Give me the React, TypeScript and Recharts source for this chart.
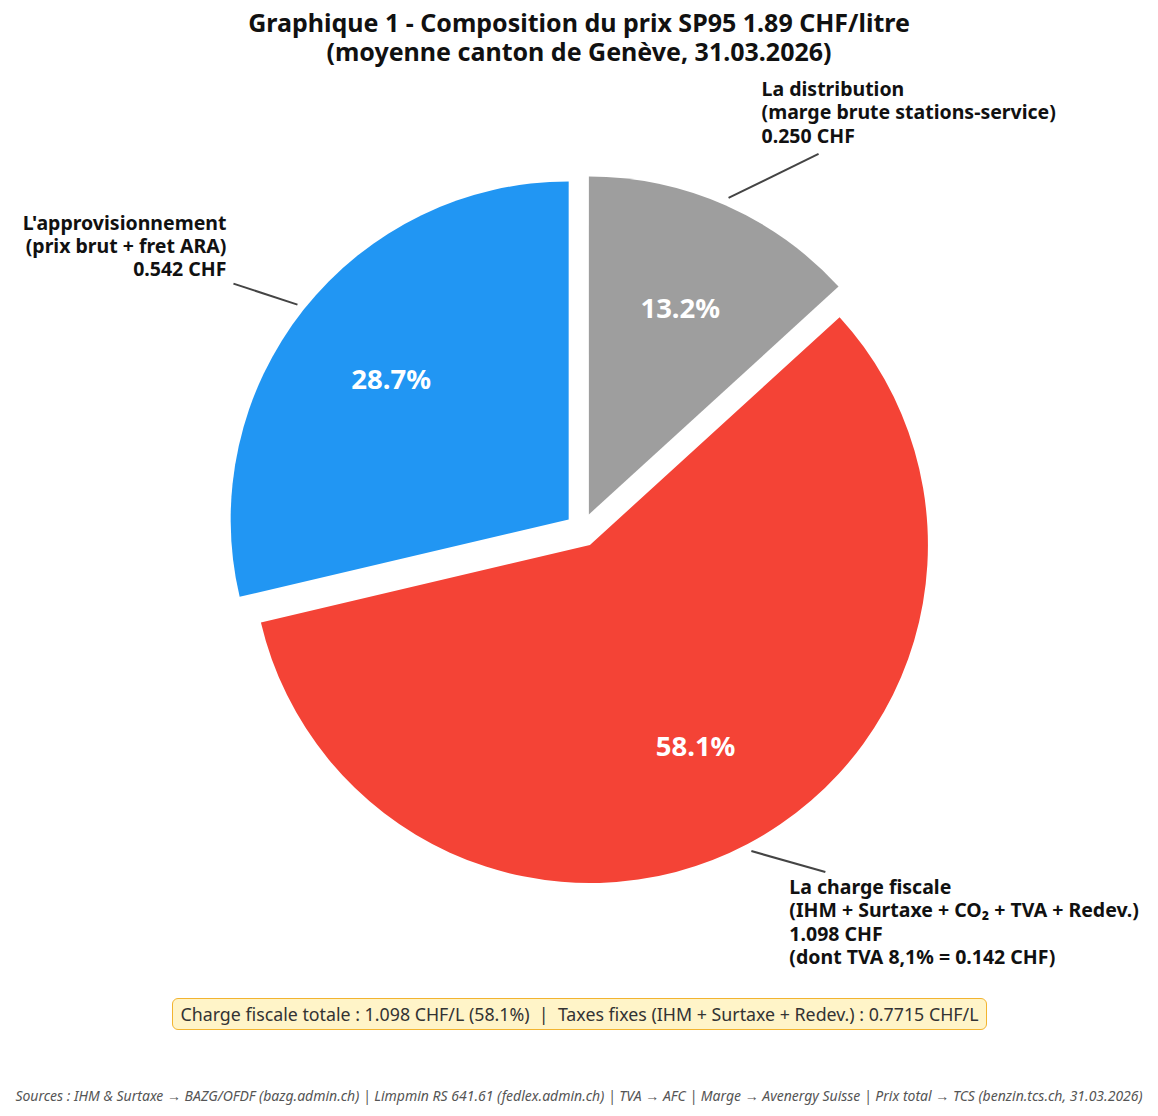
import { PieChart, Pie, Cell, Sector } from 'recharts';

// slices in clockwise order from 12 o'clock
const categories = ['La distribution', 'La charge fiscale', "L'approvisionnement"];
const details = ['(marge brute stations-service)', '(IHM + Surtaxe + CO₂ + TVA + Redev.)', '(prix brut + fret ARA)'];
const valuesChf = [0.25, 1.098, 0.542];
const notes = ['', '(dont TVA 8,1% = 0.142 CHF)', ''];
const colors = ['#9E9E9E', '#F44336', '#2196F3'];

const TITLE = ['Graphique 1 - Composition du prix SP95 1.89 CHF/litre', '(moyenne canton de Genève, 31.03.2026)'];
const SUMMARY = 'Charge fiscale totale : 1.098 CHF/L (58.1%)  |  Taxes fixes (IHM + Surtaxe + Redev.) : 0.7715 CHF/L';
const SOURCES =
  'Sources : IHM & Surtaxe → BAZG/OFDF (bazg.admin.ch) | Limpmin RS 641.61 (fedlex.admin.ch) | TVA → AFC | Marge → Avenergy Suisse | Prix total → TCS (benzin.tcs.ch, 31.03.2026)';

const data = categories.map((name, i) => ({ name, value: valuesChf[i] }));

const FONT = '"Noto Sans", "Open Sans", sans-serif';
const RAD = Math.PI / 180;
const EXPLODE = 17;

// where each annotation sits relative to the start of its leader line
const leaderEnd = [
  { dx: 90, dy: -44, tx: -57, ty: -58, anchor: 'start' },
  { dx: 74, dy: 21, tx: -36, ty: 22, anchor: 'start' },
  { dx: -64, dy: -21, tx: -7, ty: -54, anchor: 'end' },
];

function shift(cx: number, cy: number, mid: number, r: number) {
  return { x: cx + r * Math.cos(-mid * RAD), y: cy + r * Math.sin(-mid * RAD) };
}

function ExplodedSector(props: any) {
  const p = shift(props.cx, props.cy, props.midAngle, EXPLODE);
  return <Sector {...props} cx={p.x} cy={p.y} stroke="none" />;
}

function renderLabel(props: any) {
  const { cx, cy, midAngle, outerRadius, percent, index } = props;
  const c = shift(cx, cy, midAngle, EXPLODE);
  const pct = shift(c.x, c.y, midAngle, outerRadius * 0.67);
  const start = shift(cx, cy, midAngle, outerRadius + EXPLODE + 8);
  const cfg = leaderEnd[index];
  const end = { x: start.x + cfg.dx, y: start.y + cfg.dy };
  const lines = [categories[index], details[index], `${valuesChf[index].toFixed(3)} CHF`, notes[index]].filter(Boolean);
  return (
    <g>
      <text
        x={pct.x}
        y={pct.y}
        fill="#fff"
        fontSize={27.5}
        fontWeight={700}
        fontFamily={FONT}
        textAnchor="middle"
        dominantBaseline="central"
      >
        {`${(percent * 100).toFixed(1)}%`}
      </text>
      <line x1={start.x} y1={start.y} x2={end.x} y2={end.y} stroke="#444" strokeWidth={2} />
      <text
        x={end.x + cfg.tx}
        y={end.y + cfg.ty}
        fill="#111"
        fontSize={19.5}
        fontWeight={700}
        fontFamily={FONT}
        textAnchor={cfg.anchor}
      >
        {lines.map((l, i) => (
          <tspan key={i} x={end.x + cfg.tx} dy={i === 0 ? 0 : 23.4}>
            {l}
          </tspan>
        ))}
      </text>
    </g>
  );
}

export default function App() {
  return (
    <div style={styles.page}>
      <div style={styles.title}>
        {TITLE.map((t) => (
          <div key={t}>{t}</div>
        ))}
      </div>
      <div style={styles.chart}>
        <PieChart width={1158} height={1116}>
          <Pie
            data={data}
            dataKey="value"
            nameKey="name"
            cx={577}
            cy={525}
            outerRadius={338}
            startAngle={90}
            endAngle={-270}
            stroke="none"
            shape={ExplodedSector}
            label={renderLabel}
            labelLine={false}
            isAnimationActive={false}
          >
            {data.map((_, i) => (
              <Cell key={i} fill={colors[i]} />
            ))}
          </Pie>
        </PieChart>
      </div>
      <div style={styles.summary}>{SUMMARY}</div>
      <div style={styles.sources}>{SOURCES}</div>
    </div>
  );
}

const styles: Record<string, React.CSSProperties> = {
  page: {
    position: 'absolute',
    left: 0,
    top: 0,
    width: 1158,
    height: 1116,
    background: '#fff',
    fontFamily: FONT,
    overflow: 'hidden',
  },
  chart: {
    position: 'absolute',
    left: 0,
    top: 0,
  },
  title: {
    position: 'absolute',
    top: 8,
    left: 0,
    width: 1158,
    textAlign: 'center',
    fontSize: 25,
    fontWeight: 700,
    lineHeight: '29px',
    color: '#111',
    zIndex: 1,
  },
  summary: {
    position: 'absolute',
    left: 172,
    top: 998,
    width: 815,
    height: 32,
    boxSizing: 'border-box',
    border: '1.5px solid #F2B430',
    borderRadius: 6,
    background: '#FFF4C8',
    color: '#333',
    fontSize: 17.8,
    display: 'flex',
    alignItems: 'center',
    justifyContent: 'center',
    whiteSpace: 'pre',
  },
  sources: {
    position: 'absolute',
    left: 0,
    top: 1086,
    width: 1158,
    textAlign: 'center',
    fontSize: 14,
    fontStyle: 'italic',
    color: '#555',
    whiteSpace: 'nowrap',
  },
};
